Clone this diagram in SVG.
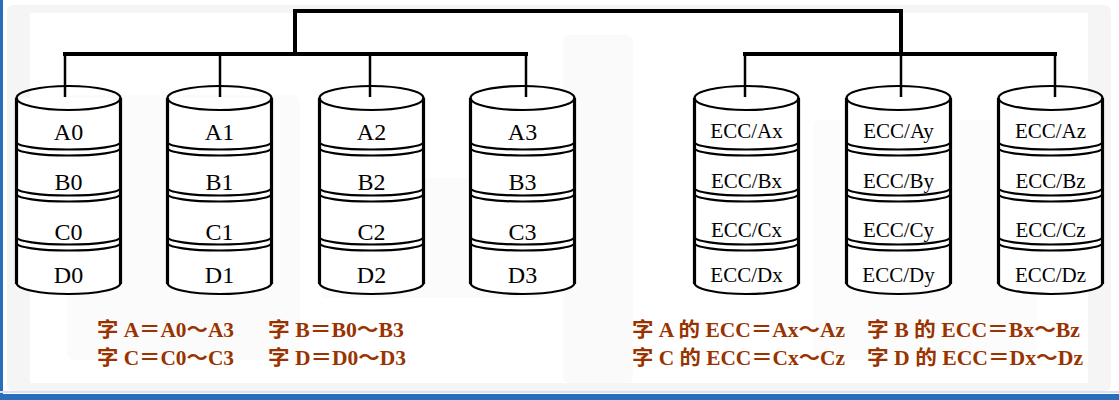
<svg xmlns="http://www.w3.org/2000/svg" xmlns:xlink="http://www.w3.org/1999/xlink" width="1119" height="400" viewBox="0 0 1119 400">
<style>
.side{stroke:#000;stroke-width:3.2;fill:none}
.rim{stroke:#000;stroke-width:2.2;fill:none}
.bus{stroke:#000;stroke-width:4;fill:none;stroke-linejoin:miter;stroke-linecap:square}
.stub{stroke:#000;stroke-width:2.5;fill:none}
.lbl{font-family:"Liberation Serif","Times New Roman",serif;font-size:24px;fill:#000;text-anchor:middle}
.ecc{font-family:"Liberation Serif","Times New Roman",serif;font-size:21px;fill:#000;text-anchor:middle}
.cap{font-family:"Liberation Serif","Noto Sans CJK SC",serif;font-size:20px;font-weight:bold;fill:#993300}
</style>
<defs>
<g id="cyl">
<path d="M-52 98 L-52 283 A52 11 0 0 0 52 283 L52 98 Z" fill="#fff"/>
<ellipse cx="0" cy="98" rx="52" ry="12" fill="#fff" class="rim"/>
<path class="rim" d="M-52 142 A52 7.5 0 0 0 52 142 M-52 148 A52 7.5 0 0 0 52 148 M-52 188 A52 7.5 0 0 0 52 188 M-52 194 A52 7.5 0 0 0 52 194 M-52 237 A52 7.5 0 0 0 52 237 M-52 243 A52 7.5 0 0 0 52 243"/>
<path class="rim" stroke-width="2.6" d="M-52 283 A52 11 0 0 0 52 283"/>
<path class="side" d="M-52 98 L-52 284 M52 98 L52 284"/>
</g>
</defs>
<rect width="1119" height="400" fill="#ffffff"/>
<rect x="7" y="5" width="1104" height="386" rx="6" fill="#f5f5f5"/>
<rect x="30" y="13" width="1058" height="370" fill="#ffffff"/>
<rect x="67" y="95" width="233" height="265" rx="8" fill="#fbfbfb"/>
<rect x="322" y="178" width="218" height="120" fill="#fbfbfb"/>
<rect x="563" y="35" width="70" height="348" rx="6" fill="#fafafa"/>
<rect x="813" y="120" width="224" height="240" rx="6" fill="#fcfcfc"/>
<rect x="0" y="0" width="3" height="400" fill="#2a6ebb"/>
<rect x="0" y="391" width="1119" height="2" fill="#d6e2ef"/>
<rect x="0" y="394" width="1119" height="6" fill="#2a6ebb"/>

<g id="connectors">
<path class="bus" d="M295 54 V11 H901 V54"/>
<path class="bus" d="M65 54 H526"/>
<path class="bus" d="M745 54 H1055"/>
<path class="stub" d="M65 54 V97 M220 54 V97 M370 54 V97 M526 54 V97 M745 54 V97 M901 54 V97 M1055 54 V97"/>
</g>

<g id="disk0"><use xlink:href="#cyl" transform="translate(68.5 0)"/>
<text class="lbl" x="68.5" y="140">A0</text><text class="lbl" x="68.5" y="190">B0</text><text class="lbl" x="68.5" y="240">C0</text><text class="lbl" x="68.5" y="283">D0</text></g>
<g id="disk1"><use xlink:href="#cyl" transform="translate(219.5 0)"/>
<text class="lbl" x="219.5" y="140">A1</text><text class="lbl" x="219.5" y="190">B1</text><text class="lbl" x="219.5" y="240">C1</text><text class="lbl" x="219.5" y="283">D1</text></g>
<g id="disk2"><use xlink:href="#cyl" transform="translate(371.5 0)"/>
<text class="lbl" x="371.5" y="140">A2</text><text class="lbl" x="371.5" y="190">B2</text><text class="lbl" x="371.5" y="240">C2</text><text class="lbl" x="371.5" y="283">D2</text></g>
<g id="disk3"><use xlink:href="#cyl" transform="translate(522.5 0)"/>
<text class="lbl" x="522.5" y="140">A3</text><text class="lbl" x="522.5" y="190">B3</text><text class="lbl" x="522.5" y="240">C3</text><text class="lbl" x="522.5" y="283">D3</text></g>
<g id="eccx"><use xlink:href="#cyl" transform="translate(746.5 0)"/>
<text class="ecc" x="746.5" y="138">ECC/Ax</text><text class="ecc" x="746.5" y="188">ECC/Bx</text><text class="ecc" x="746.5" y="237">ECC/Cx</text><text class="ecc" x="746.5" y="282">ECC/Dx</text></g>
<g id="eccy"><use xlink:href="#cyl" transform="translate(898.5 0)"/>
<text class="ecc" x="898.5" y="138">ECC/Ay</text><text class="ecc" x="898.5" y="188">ECC/By</text><text class="ecc" x="898.5" y="237">ECC/Cy</text><text class="ecc" x="898.5" y="282">ECC/Dy</text></g>
<g id="eccz"><use xlink:href="#cyl" transform="translate(1050.5 0)"/>
<text class="ecc" x="1050.5" y="138">ECC/Az</text><text class="ecc" x="1050.5" y="188">ECC/Bz</text><text class="ecc" x="1050.5" y="237">ECC/Cz</text><text class="ecc" x="1050.5" y="282">ECC/Dz</text></g>

<g id="captions">
<text class="cap" x="97" y="337" textLength="137" lengthAdjust="spacingAndGlyphs">字 A＝A0～A3</text>
<text class="cap" x="268" y="337" textLength="136" lengthAdjust="spacingAndGlyphs">字 B＝B0～B3</text>
<text class="cap" x="97" y="365" textLength="137" lengthAdjust="spacingAndGlyphs">字 C＝C0～C3</text>
<text class="cap" x="268" y="365" textLength="138" lengthAdjust="spacingAndGlyphs">字 D＝D0～D3</text>
<text class="cap" x="632" y="337" textLength="213" lengthAdjust="spacingAndGlyphs">字 A 的 ECC＝Ax～Az</text>
<text class="cap" x="867" y="337" textLength="213" lengthAdjust="spacingAndGlyphs">字 B 的 ECC＝Bx～Bz</text>
<text class="cap" x="632" y="365" textLength="213" lengthAdjust="spacingAndGlyphs">字 C 的 ECC＝Cx～Cz</text>
<text class="cap" x="867" y="365" textLength="216" lengthAdjust="spacingAndGlyphs">字 D 的 ECC＝Dx～Dz</text>
</g>
</svg>
